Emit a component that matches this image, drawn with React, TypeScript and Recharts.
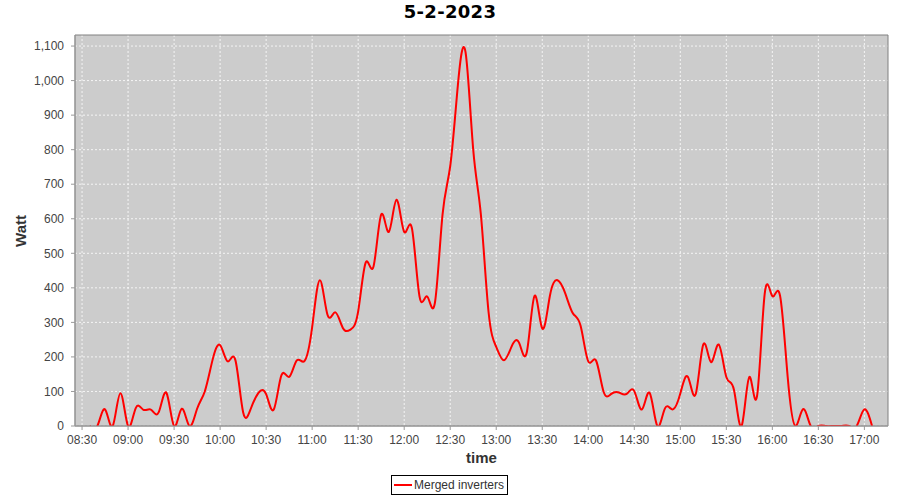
import React from 'react';
import { LineChart, Line, XAxis, YAxis, CartesianGrid, ReferenceArea } from 'recharts';

// 5-minute samples of merged inverter output
const times = [
  '08:35', '08:40', '08:45', '08:50', '08:55', '09:00', '09:05', '09:10', '09:15', '09:20',
  '09:25', '09:30', '09:35', '09:40', '09:45', '09:50', '09:55', '10:00', '10:05', '10:10',
  '10:15', '10:20', '10:25', '10:30', '10:35', '10:40', '10:45', '10:50', '10:55', '11:00',
  '11:05', '11:10', '11:15', '11:20', '11:25', '11:30', '11:35', '11:40', '11:45', '11:50',
  '11:55', '12:00', '12:05', '12:10', '12:15', '12:20', '12:25', '12:30', '12:35', '12:40',
  '12:45', '12:50', '12:55', '13:00', '13:05', '13:10', '13:15', '13:20', '13:25', '13:30',
  '13:35', '13:40', '13:45', '13:50', '13:55', '14:00', '14:05', '14:10', '14:15', '14:20',
  '14:25', '14:30', '14:35', '14:40', '14:45', '14:50', '14:55', '15:00', '15:05', '15:10',
  '15:15', '15:20', '15:25', '15:30', '15:35', '15:40', '15:45', '15:50', '15:55', '16:00',
  '16:05', '16:10', '16:15', '16:20', '16:25', '16:30', '16:35', '16:40', '16:45', '16:50',
  '16:55', '17:00', '17:05',
];

const watts = [
  0, 0, 48, 0, 95, 0, 52, 47, 47, 40,
  96, 0, 50, 0, 50, 100, 190, 234, 187, 190,
  40, 50, 96, 92, 48, 147, 142, 190, 188, 286,
  422, 322, 329, 284, 279, 332, 474, 462, 612, 562,
  655, 562, 573, 375, 375, 356, 612, 752, 987, 1082,
  800, 612, 330, 229, 190, 230, 240, 215, 377, 282,
  377, 422, 384, 326, 290, 187, 190, 99, 93, 97,
  93, 101, 48, 96, 0, 51, 48, 94, 142, 92,
  236, 185, 236, 142, 104, 0, 142, 86, 382, 376,
  378, 142, 0, 49, 0, 0, 0, 0, 0, 0,
  0, 48, 0,
];

const xTickLabels = [
  '08:30', '09:00', '09:30', '10:00', '10:30', '11:00', '11:30', '12:00', '12:30',
  '13:00', '13:30', '14:00', '14:30', '15:00', '15:30', '16:00', '16:30', '17:00',
];

const yTicks = [0, 100, 200, 300, 400, 500, 600, 700, 800, 900, 1000, 1100];

const chartTitle = '5-2-2023';
const seriesName = 'Merged inverters';
const xTitle = 'time';
const yTitle = 'Watt';

const toMin = (s: string) => {
  const [h, m] = s.split(':').map(Number);
  return h * 60 + m;
};
const fmtTime = (v: number) => {
  const h = Math.floor(v / 60);
  const m = Math.round(v - h * 60);
  return `${String(h).padStart(2, '0')}:${String(m).padStart(2, '0')}`;
};

const data = times.map((t, i) => ({ t: toMin(t), w: watts[i] }));
const xTicks = xTickLabels.map(toMin);
const X_MIN = 505.4;
const X_MAX = 1035.4;
const Y_MAX = 1132;

const tickFont = { fontFamily: 'Liberation Sans, Arial, sans-serif', fontSize: 12, fill: '#444444' };
const labelFont: React.CSSProperties = {
  fontFamily: 'Liberation Sans, Arial, sans-serif',
  fontSize: 15,
  fontWeight: 'bold',
  color: '#333333',
  position: 'absolute',
  whiteSpace: 'nowrap',
};

export default function App() {
  return (
    <div style={{ position: 'absolute', left: 0, top: 0, width: 900, height: 500, background: '#ffffff' }}>
      <div
        style={{
          position: 'absolute',
          left: 0,
          top: 1,
          width: 900,
          textAlign: 'center',
          fontFamily: 'DejaVu Sans, sans-serif',
          fontWeight: 'bold',
          fontSize: 18,
          letterSpacing: 0.3,
          color: '#000000',
        }}
      >
        {chartTitle}
      </div>
      <LineChart width={900} height={500} data={data} margin={{ top: 35, right: 12, bottom: 0, left: 0 }}>
        <CartesianGrid
          stroke="#ffffff"
          strokeOpacity={0.8}
          strokeDasharray="2 2"
          fill="#cccccc"
          fillOpacity={1}
          horizontalValues={yTicks}
          verticalValues={xTicks}
        />
        <XAxis
          dataKey="t"
          type="number"
          domain={[X_MIN, X_MAX]}
          ticks={xTicks}
          tickFormatter={fmtTime}
          allowDataOverflow
          height={74}
          tick={tickFont}
          tickSize={4}
          tickMargin={5}
          stroke="#999999"
          interval={0}
        />
        <YAxis
          type="number"
          domain={[0, Y_MAX]}
          ticks={yTicks}
          tickFormatter={(v: number) => v.toLocaleString('en-US')}
          allowDataOverflow
          width={75}
          tick={tickFont}
          tickSize={4}
          tickMargin={7}
          stroke="#999999"
          interval={0}
        />
        <ReferenceArea
          x1={X_MIN}
          x2={X_MAX}
          y1={0}
          y2={Y_MAX}
          fill="none"
          fillOpacity={0}
          stroke="#808080"
          strokeWidth={1}
          ifOverflow="visible"
        />
        <Line
          type="natural"
          dataKey="w"
          name={seriesName}
          stroke="#ff0000"
          strokeWidth={2}
          dot={false}
          isAnimationActive={false}
        />
      </LineChart>
      <div style={{ ...labelFont, left: 0, top: 449, width: 963, textAlign: 'center' }}>{xTitle}</div>
      <div
        style={{
          ...labelFont,
          left: 20,
          top: 231,
          transform: 'translate(-50%, -50%) rotate(-90deg)',
        }}
      >
        {yTitle}
      </div>
      <div
        style={{
          position: 'absolute',
          left: 391,
          top: 475,
          height: 20,
          border: '1px solid #000000',
          display: 'flex',
          alignItems: 'center',
          padding: '0 3px 0 2px',
          fontFamily: 'Liberation Sans, Arial, sans-serif',
          fontSize: 12,
          color: '#333333',
          boxSizing: 'border-box',
        }}
      >
        <svg width={18} height={6} style={{ marginRight: 2 }}>
          <line x1={0} y1={3} x2={18} y2={3} stroke="#ff0000" strokeWidth={2} />
        </svg>
        <span>{seriesName}</span>
      </div>
    </div>
  );
}
